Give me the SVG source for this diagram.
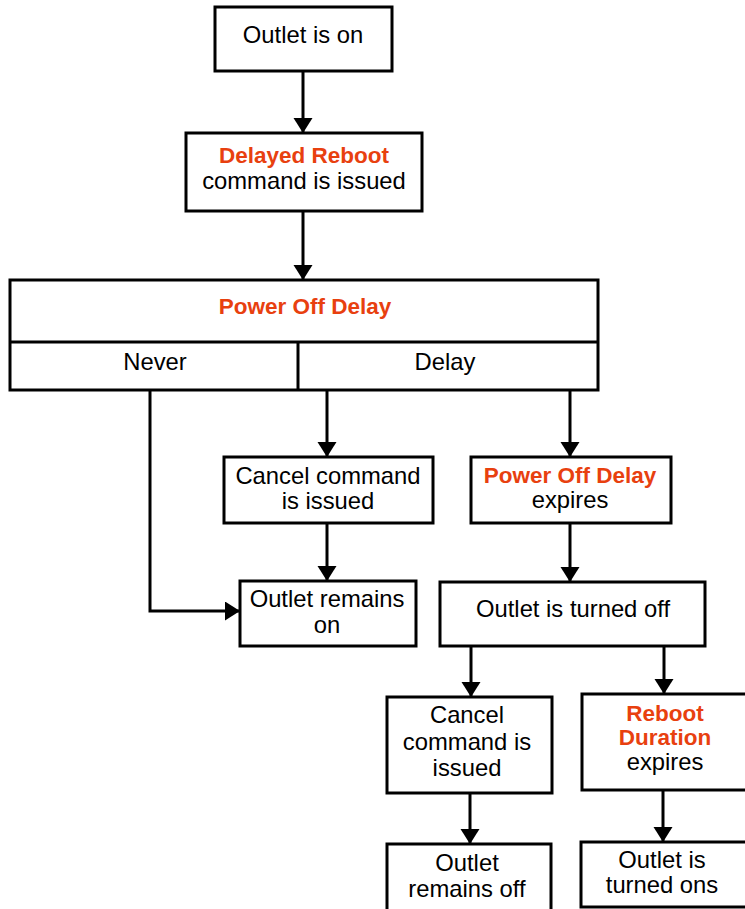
<svg xmlns="http://www.w3.org/2000/svg" width="745" height="909" viewBox="0 0 745 909">
<style>
.box{fill:#fff;stroke:#000;stroke-width:3}
.t{font-family:"Liberation Sans",Arial,sans-serif;font-size:23.8px;fill:#000;text-anchor:middle}
.r{font-weight:bold;font-size:22.5px;fill:#e8400f}
.c{stroke:#000;stroke-width:3;fill:none}
</style>
<defs>
<marker id="ah" markerUnits="userSpaceOnUse" markerWidth="16" markerHeight="20" refX="15" refY="9.5" orient="auto">
<path d="M0,0 L15,9.5 L0,19 z" fill="#000"/>
</marker>
</defs>
<rect width="745" height="909" fill="#fff"/>
<g id="connectors">
<line class="c" x1="303" y1="71" x2="303" y2="133" marker-end="url(#ah)"/>
<line class="c" x1="303" y1="211" x2="303" y2="280" marker-end="url(#ah)"/>
<polyline class="c" points="150,390 150,611 240,611" marker-end="url(#ah)"/>
<line class="c" x1="327" y1="390" x2="327" y2="457" marker-end="url(#ah)"/>
<line class="c" x1="570" y1="390" x2="570" y2="457" marker-end="url(#ah)"/>
<line class="c" x1="327" y1="523" x2="327" y2="581" marker-end="url(#ah)"/>
<line class="c" x1="570" y1="523" x2="570" y2="582" marker-end="url(#ah)"/>
<line class="c" x1="471" y1="646" x2="471" y2="697" marker-end="url(#ah)"/>
<line class="c" x1="664" y1="646" x2="664" y2="694" marker-end="url(#ah)"/>
<line class="c" x1="470" y1="793" x2="470" y2="844" marker-end="url(#ah)"/>
<line class="c" x1="663" y1="790" x2="663" y2="842" marker-end="url(#ah)"/>
</g>
<g id="n1"><rect class="box" x="215" y="7" width="177" height="64"/><text class="t" x="303" y="43">Outlet is on</text></g>
<g id="n2"><rect class="box" x="186" y="133" width="236" height="78"/><text class="t r" x="304" y="163">Delayed Reboot</text><text class="t" x="304" y="189">command is issued</text></g>
<g id="n3"><rect class="box" x="10" y="280" width="588" height="110"/><line class="c" x1="10" y1="342" x2="598" y2="342"/><line class="c" x1="298" y1="342" x2="298" y2="390"/><text class="t r" x="305" y="314">Power Off Delay</text><text class="t" x="155" y="370">Never</text><text class="t" x="445" y="370">Delay</text></g>
<g id="n4"><rect class="box" x="224" y="457" width="209" height="66"/><text class="t" x="328" y="484">Cancel command</text><text class="t" x="328" y="509">is issued</text></g>
<g id="n5"><rect class="box" x="471" y="457" width="200" height="66"/><text class="t r" x="570" y="483">Power Off Delay</text><text class="t" x="570" y="508">expires</text></g>
<g id="n6"><rect class="box" x="240" y="581" width="176" height="65"/><text class="t" x="327" y="607">Outlet remains</text><text class="t" x="327" y="633">on</text></g>
<g id="n7"><rect class="box" x="440" y="582" width="265" height="64"/><text class="t" x="573" y="617">Outlet is turned off</text></g>
<g id="n8"><rect class="box" x="387" y="697" width="165" height="96"/><text class="t" x="467" y="723">Cancel</text><text class="t" x="467" y="750">command is</text><text class="t" x="467" y="776">issued</text></g>
<g id="n9"><rect class="box" x="582" y="694" width="170" height="96"/><text class="t r" x="665" y="721">Reboot</text><text class="t r" x="665" y="745">Duration</text><text class="t" x="665" y="770">expires</text></g>
<g id="n10"><rect class="box" x="387" y="844" width="164" height="70"/><text class="t" x="467" y="871">Outlet</text><text class="t" x="467" y="897">remains off</text></g>
<g id="n11"><rect class="box" x="581" y="842" width="170" height="65"/><text class="t" x="662" y="868">Outlet is</text><text class="t" x="662" y="893">turned ons</text></g>
</svg>
